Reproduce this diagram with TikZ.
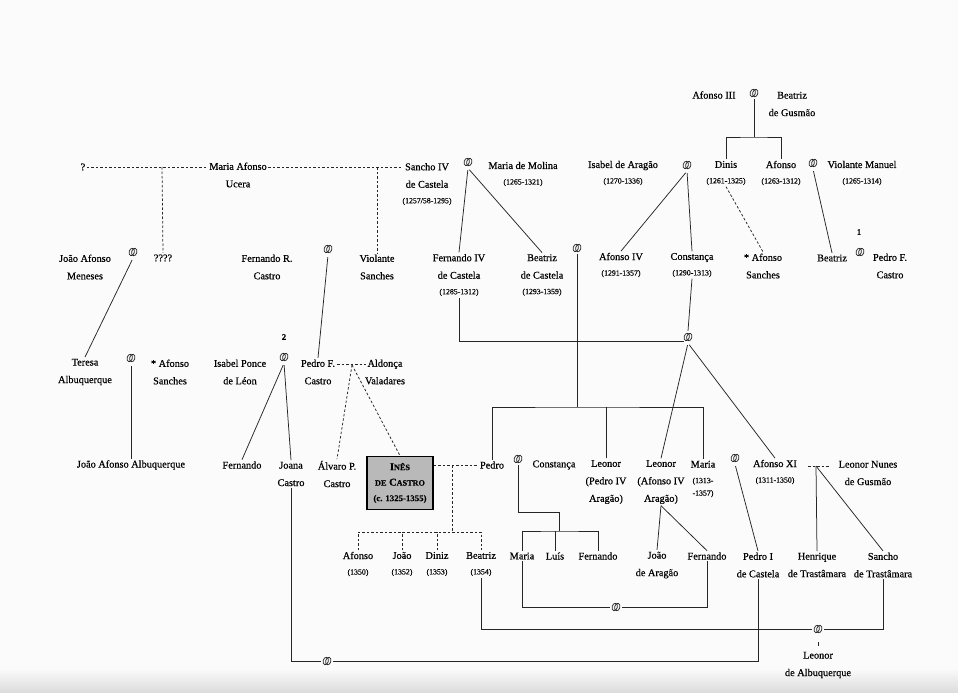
\documentclass[tikz,border=0pt]{standalone}
\usepackage{fontspec}
\setmainfont{Liberation Serif}[FakeBold=0.4]
\usetikzlibrary{calc}
\newcommand\dtx[1]{{\fontsize{7.8}{9}\selectfont #1}}
\newcommand\smc[1]{{\fontsize{8.2}{9}\selectfont #1}}
\begin{document}
\begin{tikzpicture}[x=1pt,y=-1pt,
  person/.style={font=\fontsize{10.3}{17.5}\selectfont, align=center, inner sep=1.5pt, text=black},
  numlab/.style={font=\fontsize{8.5}{9}\selectfont\bfseries, inner sep=1pt, text=black},
  ring/.style={circle, minimum size=12pt, inner sep=0pt, path picture={
     \draw[line width=0.75pt, black!85] ([xshift=-1.3pt]path picture bounding box.center) ellipse [x radius=2.6pt, y radius=3.8pt, rotate=-15];
     \draw[line width=0.75pt, black!85] ([xshift=1.3pt]path picture bounding box.center) ellipse [x radius=2.6pt, y radius=3.8pt, rotate=-15];}},
  rel/.style={line width=0.75pt, black!85},
  drel/.style={line width=0.75pt, black!85, dash pattern=on 2.5pt off 2pt},
  fr/.style={shorten <=2pt},
  inesbox/.style={draw=black, line width=1.7pt, fill=gray!55, minimum width=66pt, minimum height=53pt, align=center, inner sep=1pt, font=\bfseries\fontsize{10.5}{15.5}\selectfont}
]
\fill[gray!3] (0,0) rectangle (958,693);
\shade[top color=gray!3, bottom color=gray!28] (0,668) rectangle (958,693);
\useasboundingbox (0,0) rectangle (958,693);

% ---------- top right ----------
\node[person] (afIII) at (714,95) {Afonso III};
\node[ring] (rTop) at (754,93) {};
\node[person] (beaG) at (792,104) {Beatriz\\de Gusmão};
\node[person] (dinis) at (726,173) {Dinis\\[-2pt]\dtx{(1261-1325)}};
\node[person] (afonsoD) at (781,173) {Afonso\\[-2pt]\dtx{(1263-1312)}};
\coordinate (jTop) at (754,137);
\draw[rel] (rTop.south) -- (jTop);
\draw[rel] (dinis.north) |- (jTop) -| (afonsoD.north);

\node[ring] (rIsa) at (687,165) {};
\node[person] (isabel) at (623,173) {Isabel de Aragão\\[-2pt]\dtx{(1270-1336)}};
\node[ring] (rVio) at (813,163) {};
\node[person] (violM) at (862,173) {Violante Manuel\\[-2pt]\dtx{(1265-1314)}};

\node[person] (afIV) at (621,265) {Afonso IV\\[-2pt]\dtx{(1291-1357)}};
\node[person] (constD) at (692,265) {Constança\\[-2pt]\dtx{(1290-1313)}};
\node[person] (asanch) at (763,266) {* Afonso\\Sanches};
\node[person] (beatrizD) at (832,258) {Beatriz};
\node[numlab] (one) at (859,232) {1};
\node[ring] (rBP) at (860,252) {};
\node[person] (pedroFC1) at (890,266) {Pedro F.\\Castro};

\draw[rel, fr] (rIsa.south) -- (afIV.north);
\draw[rel, fr] (rIsa.south) -- (constD.north);
\draw[drel] (dinis.south) -- (asanch.north);
\draw[rel, fr] (rVio.south) -- (beatrizD.north);

% ---------- centre top ----------
\node[person] (sancho) at (427,184) {Sancho IV\\de Castela\\[-2pt]\dtx{(1257/58-1295)}};
\node[ring] (rSM) at (468,162) {};
\node[person] (molina) at (523,174) {Maria de Molina\\[-2pt]\dtx{(1265-1321)}};
\node[person] (fernIV) at (459,275) {Fernando IV\\de Castela\\[-2pt]\dtx{(1285-1312)}};
\node[person] (beaC) at (542,275) {Beatriz\\de Castela\\[-2pt]\dtx{(1293-1359)}};
\draw[rel, fr] (rSM.south) -- (fernIV.north);
\draw[rel, fr] (rSM.south) -- (beaC.north);
\node[ring] (rAB) at (577,248) {};
\node[ring] (rFC) at (688,337) {};
\draw[rel] (fernIV.south) |- (rFC.south west);
\draw[rel] (constD.south) -- (rFC.north);

% ---------- row 4 ----------
\node[person] (pedro) at (492,465) {Pedro};
\node[ring] (rPC) at (518,459) {};
\node[person] (constC) at (554,465) {Constança};
\node[person] (leoP) at (606,482) {Leonor\\(Pedro IV\\Aragão)};
\node[person] (leoA) at (661,482) {Leonor\\(Afonso IV\\Aragão)};
\node[person] (mariaL) at (703,479) {Maria\\[-2pt]\dtx{(1313-}\\[-5pt]\dtx{-1357)}};
\node[ring] (rMA) at (735,458) {};
\node[person] (afXI) at (775,472) {Afonso XI\\[-2pt]\dtx{(1311-1350)}};
\node[person] (leoN) at (868,473) {Leonor Nunes\\de Gusmão};

\coordinate (jAB) at (577,407);
\draw[rel] (rAB.south) -- (jAB);
\draw[rel] (pedro.north) |- (jAB) -| (mariaL.north);
\draw[rel] (leoP.north) -- (leoP.north |- jAB);
\draw[rel, fr] (rFC.south) -- (leoA.north);
\draw[rel, fr] (rFC.south) -- (afXI.north);

\coordinate (dAL1) at (808,466);
\coordinate (dAL2) at (829,466);
\coordinate (mAL) at (816,466);
\draw[drel] (dAL1) -- (dAL2);

\node[person] (pedroI) at (758,565) {Pedro I\\de Castela};
\node[person] (henr) at (817,565) {Henrique\\de Trastâmara};
\node[person] (sancho2) at (883,565) {Sancho\\de Trastâmara};
\draw[rel] (mAL) -- (henr.north);
\draw[rel] (mAL) -- (sancho2.north);
\draw[rel, fr] (rMA.south) -- (pedroI.north);

% children of Pedro and Constança
\node[person] (mariaK) at (522,556) {Maria};
\node[person] (luis) at (555,556) {Luís};
\node[person] (fernK) at (598,556) {Fernando};
\coordinate (bPC) at (559,512);
\coordinate (kPC) at (559,531);
\draw[rel] (rPC.south) |- (bPC) -- (kPC);
\draw[rel] (mariaK.north) |- (kPC) -| (fernK.north);
\draw[rel] (luis.north) -- (luis.north |- kPC);

% children of Leonor (Afonso IV)
\node[person] (joaoA) at (657,565) {João\\de Aragão};
\node[person] (fernA) at (707,556) {Fernando};
\draw[rel] (leoA.south) -- (joaoA.north);
\draw[rel] (leoA.south) -- (fernA.north);

% ---------- Inês ----------
\node[inesbox] (ines) at (400,483) {I\smc{NÊS}\\\smc{DE} C\smc{ASTRO}\\{\fontsize{8.8}{10}\selectfont (c. 1325-1355)}};
\node[person] (alvaro) at (337,474) {Álvaro P.\\Castro};
\draw[drel] (ines.east |- pedro.west) -- (pedro.west);
\coordinate (jIP) at (452,465);
\coordinate (jKids) at (452,532);
\node[person] (afK) at (358,564) {Afonso\\[-2pt]\dtx{(1350)}};
\node[person] (joaoK) at (402,564) {João\\[-2pt]\dtx{(1352)}};
\node[person] (dinizK) at (437,564) {Diniz\\[-2pt]\dtx{(1353)}};
\node[person] (beaK) at (481,564) {Beatriz\\[-2pt]\dtx{(1354)}};
\draw[drel] (jIP) -- (jKids);
\draw[drel] (afK.north) |- (jKids) -| (beaK.north);
\draw[drel] (joaoK.north) -- (joaoK.north |- jKids);
\draw[drel] (dinizK.north) -- (dinizK.north |- jKids);

% ---------- left ----------
\node[person] (q1) at (83,167) {?};
\node[person] (mAfonso) at (238,175) {Maria Afonso\\Ucera};
\node[person] (qqqq) at (163,258) {????};
\node[person] (violS) at (377,267) {Violante\\Sanches};
\coordinate (d1) at (162,167);
\coordinate (d2) at (377,167);
\draw[drel] (q1.east) -- (mAfonso.west |- q1.east);
\draw[drel] (mAfonso.east |- q1.east) -- (sancho.west |- q1.east);
\draw[drel] (d1) -- (qqqq.north);
\draw[drel] (d2) -- (violS.north);

\node[person] (jaMen) at (85,267) {João Afonso\\Meneses};
\node[ring] (rJT) at (133,252) {};
\node[person] (teresa) at (85,372) {Teresa\\Albuquerque};
\draw[rel, fr] (rJT.south) -- (teresa.north);
\node[ring] (rTA) at (131,358) {};
\node[person] (aSan2) at (170,372) {* Afonso\\Sanches};
\node[person] (jaa) at (131,465) {João Afonso Albuquerque};
\draw[rel, fr] (rTA.south) -- (jaa.north);

\node[person] (fernR) at (267,267) {Fernando R.\\Castro};
\node[ring] (rFR) at (328,249) {};
\node[person] (isabelP) at (240,372) {Isabel Ponce\\de Léon};
\node[numlab] (two) at (284,337) {2};
\node[ring] (rIP) at (284,357) {};
\node[person] (pedroFC) at (318,372) {Pedro F.\\Castro};
\node[person] (aldonca) at (385,372) {Aldonça\\Valadares};
\draw[rel, fr] (rFR.south) -- (pedroFC.north);
\coordinate (pa1) at (337,364);
\coordinate (pa2) at (366,364);
\coordinate (pam) at (352,365);
\draw[drel] (pa1) -- (pa2);
\draw[drel] (pam) -- (alvaro.north);
\draw[drel] (pam) -- (ines.north);

\node[person] (fernP) at (242,465) {Fernando};
\node[person] (joana) at (291,474) {Joana\\Castro};
\draw[rel, fr] (rIP.south) -- (fernP.north);
\draw[rel, fr] (rIP.south) -- (joana.north);

% ---------- bottom marriages ----------
\node[ring] (rMF) at (616,607) {};
\draw[rel] (mariaK.south) |- (rMF.west);
\draw[rel] (rMF.east) -| (fernA.south);

\node[ring] (rBS) at (818,629) {};
\draw[rel] (beaK.south) |- (rBS.west);
\draw[rel] (rBS.east) -| (sancho2.south);
\node[person] (leoAlb) at (818,665) {Leonor\\de Albuquerque};
\draw[rel, shorten <=7pt, shorten >=4pt] (rBS.south) -- (leoAlb.north);

\node[ring] (rJP) at (327,661) {};
\draw[rel] (joana.south) |- (rJP.west);
\draw[rel] (rJP.east) -| (pedroI.south);
\end{tikzpicture}
\end{document}
